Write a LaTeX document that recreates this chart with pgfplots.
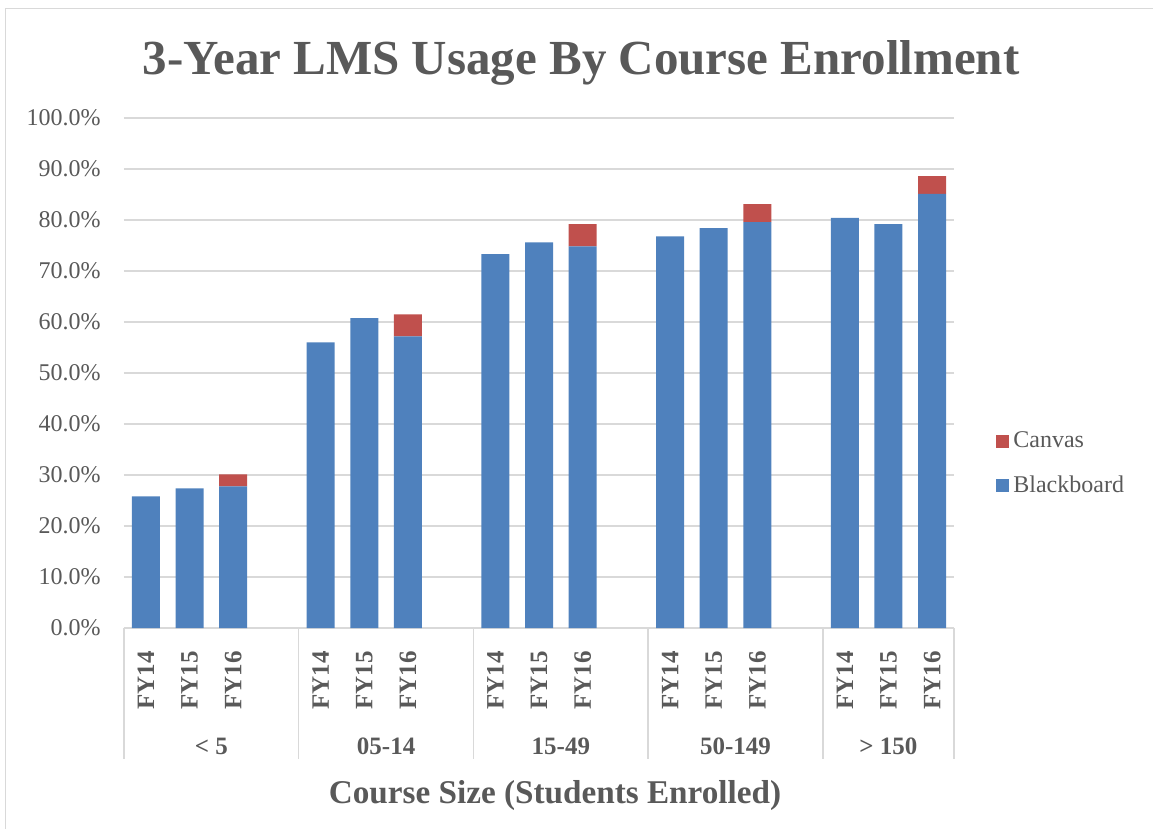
\documentclass[border=0pt]{standalone}
\usepackage{pgfplots}
\pgfplotsset{compat=1.18}
\usepackage{fontspec}
\setmainfont{Liberation Serif}
\definecolor{bbblue}{HTML}{4F81BD}
\definecolor{cvred}{HTML}{C0504D}
\definecolor{gridgray}{HTML}{D9D9D9}
\definecolor{txt}{HTML}{595959}
\pgfplotstableread{
x bb cv
0 25.8 0
1 27.4 0
2 27.75 2.35
4 56.0 0
5 60.75 0
6 57.2 4.3
8 73.3 0
9 75.6 0
10 74.85 4.35
12 76.8 0
13 78.4 0
14 79.6 3.5
16 80.4 0
17 79.2 0
18 85.1 3.5
}\data
\begin{document}
\begin{tikzpicture}
\begin{axis}[
  scale only axis, width=415bp, height=255bp,
  at={(0,0)}, anchor=south west,
  ybar stacked, bar width=14bp,
  xmin=-0.5, xmax=18.5, ymin=0, ymax=100,
  clip=false,
  axis lines*=left,
  y axis line style={draw=none},
  x axis line style={draw=gridgray, line width=0.75bp},
  tick style={draw=none},
  major tick length=0pt,
  ymajorgrids, grid style={gridgray, line width=0.75bp},
  ytick={0,10,...,100},
  /pgf/number format/assume math mode=true,
  yticklabel={\pgfmathprintnumber[fixed,fixed zerofill,precision=1]{\tick}\%},
  yticklabel style={font=\fontsize{12bp}{14bp}\selectfont, text=txt, inner sep=0pt, anchor=east},
  yticklabel shift=11.5bp,
  xtick={0,1,2,4,5,6,8,9,10,12,13,14,16,17,18},
  xticklabels={FY14,FY15,FY16,FY14,FY15,FY16,FY14,FY15,FY16,FY14,FY15,FY16,FY14,FY15,FY16},
  xticklabel style={font=\bfseries\fontsize{12.5bp}{14bp}\selectfont, text=txt, rotate=90, anchor=east, inner sep=0pt},
  xticklabel shift=11.5bp,
  legend image code/.code={\fill[#1] (0bp,-3.25bp) rectangle (6.5bp,3.25bp);},
  legend style={at={(rel axis cs:1.0506,0.322)}, anchor=west, draw=none, fill=none,
    font=\fontsize{12bp}{14bp}\selectfont, text=txt, row sep=8.5bp, inner sep=0pt},
  legend cell align=left,
  reverse legend,
]
\addplot[fill=bbblue, draw=none] table[x=x, y=bb] {\data};
\addlegendentry{Blackboard}
\addplot[fill=cvred, draw=none] table[x=x, y=cv] {\data};
\addlegendentry{Canvas}
\foreach \s in {-0.5,3.5,7.5,11.5,15.5,18.5}{
  \edef\tmp{\noexpand\draw[gridgray, line width=0.75bp] (axis cs:\s,0) -- ([yshift=-65.5bp]axis cs:\s,0);}\tmp
}
\foreach \c/\t in {1.5/{< 5},5.5/{05-14},9.5/{15-49},13.5/{50-149},17/{> 150}}{
  \edef\tmp{\noexpand\node[anchor=base, text=txt, font=\noexpand\bfseries\noexpand\fontsize{12.5bp}{14bp}\noexpand\selectfont, inner sep=0pt] at (axis cs:\c,0) [yshift=-63bp] {\t};}\tmp
}
\node[anchor=base, text=txt, font=\bfseries\fontsize{16.6bp}{19bp}\selectfont, inner sep=0pt] at (rel axis cs:0,0) [xshift=215.5bp, yshift=-87.5bp] {Course Size (Students Enrolled)};
\node[anchor=base, text=txt, font=\bfseries\fontsize{24.5bp}{30bp}\selectfont, inner sep=0pt] at (rel axis cs:0,0) [xshift=228.5bp, yshift=276.5bp] {3-Year LMS Usage By Course Enrollment};
\end{axis}
\draw[gridgray, line width=0.75bp] (-59.25bp,-100.5bp) -- (-59.25bp,309.75bp) -- (514.5bp,309.75bp);
\pgfresetboundingbox
\path[use as bounding box] (-62bp,-100.5bp) rectangle (514.5bp,314bp);
\end{tikzpicture}
\end{document}
